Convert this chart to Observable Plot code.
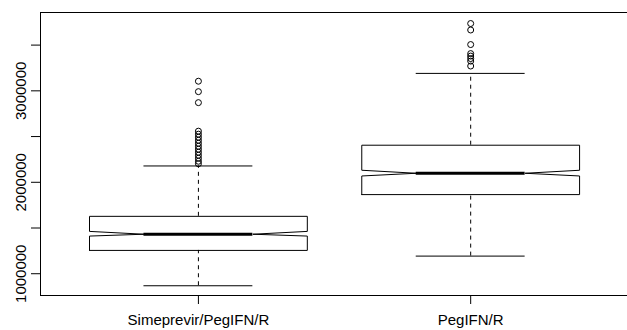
<!DOCTYPE html>
<html><head><meta charset="utf-8">
<script src="https://cdn.jsdelivr.net/npm/d3@7"></script>
<script src="https://cdn.jsdelivr.net/npm/@observablehq/plot@0.6"></script>
<style>body{margin:0;background:#fff} svg{display:block}</style>
</head><body><div id="chart"></div>
<script>
const categories = ["Simeprevir/PegIFN/R", "PegIFN/R"];
const positions = [1, 2];
const lowerWhisker = [868600, 1192800];
const q1 = [1255000, 1865300];
const median = [1432000, 2098600];
const q3 = [1627600, 2405300];
const upperWhisker = [2178500, 3190600];
const notchLow = [1411800, 2069000];
const notchHigh = [1463000, 2131500];
const outliers1 = [3105000, 2991000, 2871000, 2559000, 2526000, 2493000, 2460000, 2427000, 2394000, 2362000, 2329000, 2296000, 2263000, 2230000, 2203000];
const outliers2 = [3736000, 3665000, 3506000, 3407000, 3380000, 3353000, 3325000, 3271000];
const yTicks = [1000000, 1500000, 2000000, 2500000, 3000000, 3500000];
const yLabelTicks = [1000000, 2000000, 3000000];

const xDomain = [0.42, 2.58];
const yDomain = [762000, 3856500];
const halfW = 0.4, notchFrac = 0.5;

const stats = positions.map((p, i) => ({
  pos: p, name: categories[i], lw: lowerWhisker[i], q1: q1[i], med: median[i],
  q3: q3[i], uw: upperWhisker[i], lo: notchLow[i], hi: notchHigh[i]
}));

const poly = [];
stats.forEach(s => {
  const xs = [-1, 1, 1, notchFrac, 1, 1, -1, -1, -notchFrac, -1, -1];
  const ys = [s.q1, s.q1, s.lo, s.med, s.hi, s.q3, s.q3, s.hi, s.med, s.lo, s.q1];
  xs.forEach((k, j) => poly.push({g: s.name, x: s.pos + k * halfW, y: ys[j]}));
});

const outl = [
  ...outliers1.map(v => ({pos: positions[0], v})),
  ...outliers2.map(v => ({pos: positions[1], v}))
];

const chart = Plot.plot({
  width: 627,
  height: 330,
  marginLeft: 40,
  marginRight: 0,
  marginTop: 12,
  marginBottom: 35,
  style: {fontFamily: "'Liberation Sans', Arial, sans-serif", fontSize: "15px", color: "#000", background: "#fff"},
  x: {domain: xDomain, range: [40, 628.1]},
  y: {domain: yDomain},
  marks: [
    Plot.ruleX(stats, {x: "pos", y1: "q3", y2: "uw", stroke: "#000", strokeDasharray: "4,4"}),
    Plot.ruleX(stats, {x: "pos", y1: "lw", y2: "q1", stroke: "#000", strokeDasharray: "4,4"}),
    Plot.ruleY(stats, {y: "uw", x1: d => d.pos - halfW * notchFrac, x2: d => d.pos + halfW * notchFrac, stroke: "#000"}),
    Plot.ruleY(stats, {y: "lw", x1: d => d.pos - halfW * notchFrac, x2: d => d.pos + halfW * notchFrac, stroke: "#000"}),
    Plot.line(poly, {x: "x", y: "y", z: "g", stroke: "#000", strokeWidth: 1}),
    Plot.ruleY(stats, {y: "med", x1: d => d.pos - halfW * notchFrac, x2: d => d.pos + halfW * notchFrac, stroke: "#000", strokeWidth: 3}),
    Plot.dot(outl, {x: "pos", y: "v", r: 3, stroke: "#000", fill: "none", strokeWidth: 1}),
    Plot.ruleX([xDomain[0]], {stroke: "#000"}),
    Plot.ruleY([yDomain[0], yDomain[1]], {stroke: "#000"}),
    Plot.axisY({ticks: yTicks, tickSize: 9, tickRotate: -90, tickPadding: 6,
      tickFormat: d => yLabelTicks.includes(d) ? String(d) : "", label: null, stroke: "#000"}),
    Plot.axisX({ticks: positions, tickSize: 9, tickPadding: 10,
      tickFormat: d => categories[d - 1], label: null, stroke: "#000"})
  ]
});
document.getElementById("chart").appendChild(chart);
</script>
</body></html>
